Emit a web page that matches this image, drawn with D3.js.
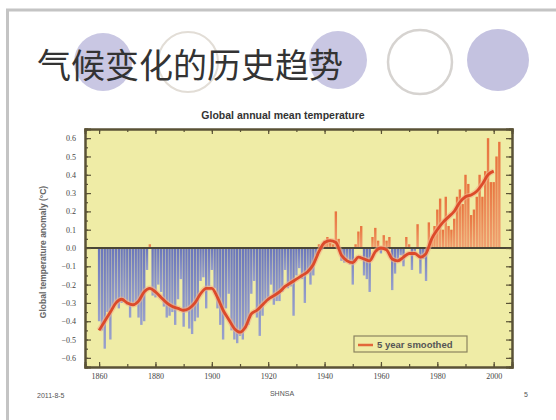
<!DOCTYPE html>
<html>
<head>
<meta charset="utf-8">
<script src="https://cdn.jsdelivr.net/npm/d3@7"></script>
<style>
  html, body { margin: 0; padding: 0; background: #fff; }
  svg { display: block; }
</style>
</head>
<body>
<svg id="slide" width="556" height="420"></svg>
<script>
// Annual global mean temperature anomalies (°C), 1860–2002
const firstYear = 1860;
const anomalies = [
  -0.40, -0.45, -0.55, -0.35, -0.50, -0.32, -0.30, -0.33, -0.30, -0.28,
  -0.31, -0.38, -0.30, -0.31, -0.38, -0.42, -0.40, -0.12, 0.02, -0.26,
  -0.27, -0.20, -0.24, -0.32, -0.38, -0.37, -0.35, -0.42, -0.28, -0.17,
  -0.43, -0.35, -0.44, -0.47, -0.40, -0.38, -0.18, -0.16, -0.33, -0.21,
  -0.12, -0.22, -0.33, -0.42, -0.50, -0.33, -0.25, -0.45, -0.50, -0.52,
  -0.48, -0.50, -0.44, -0.42, -0.25, -0.18, -0.38, -0.48, -0.37, -0.30,
  -0.29, -0.20, -0.31, -0.29, -0.29, -0.24, -0.12, -0.22, -0.21, -0.37,
  -0.15, -0.11, -0.17, -0.30, -0.14, -0.20, -0.15, -0.04, 0.02, -0.01,
  0.04, 0.06, 0.03, 0.02, 0.20, 0.05, -0.07, -0.08, -0.06, -0.09,
  -0.20, 0.02, 0.09, 0.12, -0.15, -0.17, -0.24, 0.06, 0.11, 0.04,
  -0.03, 0.07, 0.04, 0.06, -0.23, -0.14, -0.07, -0.04, -0.10, 0.06,
  0.02, -0.12, -0.02, 0.13, -0.14, -0.06, -0.18, 0.14, 0.05, 0.12,
  0.21, 0.27, 0.10, 0.28, 0.12, 0.10, 0.16, 0.28, 0.32, 0.24,
  0.40, 0.35, 0.18, 0.21, 0.28, 0.40, 0.28, 0.42, 0.60, 0.36,
  0.36, 0.50, 0.58
];
const years = anomalies.map((_, i) => firstYear + i);

// Smoothed curve (every two years)
const smoothYears = [
  1860, 1862, 1864, 1866, 1868, 1870, 1872, 1874, 1876, 1878,
  1880, 1882, 1884, 1886, 1888, 1890, 1892, 1894, 1896, 1898,
  1900, 1902, 1904, 1906, 1908, 1910, 1912, 1914, 1916, 1918,
  1920, 1922, 1924, 1926, 1928, 1930, 1932, 1934, 1936, 1938,
  1940, 1942, 1944, 1946, 1948, 1950, 1952, 1954, 1956, 1958,
  1960, 1962, 1964, 1966, 1968, 1970, 1972, 1974, 1976, 1978,
  1980, 1982, 1984, 1986, 1988, 1990, 1992, 1994, 1996, 1998, 2000
];
const smoothValues = [
  -0.45, -0.40, -0.35, -0.30, -0.28, -0.30, -0.31, -0.29, -0.24, -0.22,
  -0.24, -0.27, -0.30, -0.32, -0.33, -0.34, -0.33, -0.30, -0.25, -0.22,
  -0.22, -0.27, -0.34, -0.39, -0.44, -0.46, -0.43, -0.36, -0.34, -0.31,
  -0.28, -0.26, -0.24, -0.21, -0.19, -0.17, -0.15, -0.13, -0.09, -0.02,
  0.03, 0.04, 0.03, -0.04, -0.07, -0.08, -0.05, -0.06, -0.07, -0.02,
  0.00, -0.01, -0.06, -0.07, -0.05, -0.03, -0.03, -0.05, -0.03, 0.05,
  0.10, 0.14, 0.17, 0.20, 0.25, 0.28, 0.29, 0.31, 0.35, 0.40, 0.42
];

const yTicks = [0.6, 0.5, 0.4, 0.3, 0.2, 0.1, 0.0, -0.1, -0.2, -0.3, -0.4, -0.5, -0.6];
const xTicks = [1860, 1880, 1900, 1920, 1940, 1960, 1980, 2000];

const slideTitle = "气候变化的历史趋势";
const chartTitle = "Global annual mean temperature";
const yLabel = "Global temperature anomaly (°C)";
const legendLabel = "5 year smoothed";
const footerLeft = "2011-8-5";
const footerMid = "SHNSA";
const pageNo = "5";

const svg = d3.select("#slide");

// slide frame (top and left edges)
svg.append("line").attr("x1", 6).attr("x2", 556).attr("y1", 10).attr("y2", 10)
  .attr("stroke", "#c4c4c4").attr("stroke-width", 3);
svg.append("line").attr("x1", 7.5).attr("x2", 7.5).attr("y1", 9).attr("y2", 420)
  .attr("stroke", "#c4c4c4").attr("stroke-width", 3);

// decorative circles behind the heading
const deco = svg.append("g");
deco.append("circle").attr("cx", 103).attr("cy", 62).attr("r", 29).attr("fill", "#c9c7e3");
deco.append("circle").attr("cx", 188).attr("cy", 62).attr("r", 30).attr("fill", "#fff")
  .attr("stroke", "#e2ddd6").attr("stroke-width", 2);
deco.append("circle").attr("cx", 338).attr("cy", 60).attr("r", 29).attr("fill", "#c9c7e3");
deco.append("circle").attr("cx", 420).attr("cy", 62).attr("r", 32).attr("fill", "#fff")
  .attr("stroke", "#d6d3d0").attr("stroke-width", 2.5);
deco.append("circle").attr("cx", 498).attr("cy", 60).attr("r", 31).attr("fill", "#c4c2e0");

svg.append("text").attr("x", 37).attr("y", 78)
  .attr("font-family", "'Noto Sans CJK SC', sans-serif")
  .attr("font-size", 34).attr("fill", "#333")
  .text(slideTitle);

// chart
const x = d3.scaleLinear().domain([1855, 2006.5]).range([85, 512]);
const y = d3.scaleLinear().domain([-0.65, 0.65]).range([367, 129]);

const plot = svg.append("g");
plot.append("rect").attr("x", 85).attr("y", 129).attr("width", 427).attr("height", 238)
  .attr("fill", "#efeca6");

const defs = svg.append("defs");
const gBlue = defs.append("linearGradient").attr("id", "gBlue")
  .attr("x1", 0).attr("y1", 0).attr("x2", 0).attr("y2", 1);
gBlue.append("stop").attr("offset", "0%").attr("stop-color", "#6a76bb");
gBlue.append("stop").attr("offset", "100%").attr("stop-color", "#98a0cc");
const gRed = defs.append("linearGradient").attr("id", "gRed")
  .attr("x1", 0).attr("y1", 1).attr("x2", 0).attr("y2", 0);
gRed.append("stop").attr("offset", "0%").attr("stop-color", "#f0a070");
gRed.append("stop").attr("offset", "100%").attr("stop-color", "#e8743f");

const bw = (x(1) - x(0)) * 0.85;
plot.selectAll("rect.bar").data(years).join("rect")
  .attr("class", "bar")
  .attr("x", d => x(d) - bw / 2)
  .attr("width", bw)
  .attr("y", (d, i) => Math.min(y(anomalies[i]), y(0)))
  .attr("height", (d, i) => Math.abs(y(anomalies[i]) - y(0)))
  .attr("fill", (d, i) => anomalies[i] < 0 ? "url(#gBlue)" : "url(#gRed)");

// zero line
plot.append("line").attr("x1", 85).attr("x2", 512).attr("y1", y(0)).attr("y2", y(0))
  .attr("stroke", "#4a4636").attr("stroke-width", 2.2);

// smoothed curve
const line = d3.line().x((d, i) => x(smoothYears[i])).y(d => y(d)).curve(d3.curveMonotoneX);
plot.append("path").datum(smoothValues).attr("d", line)
  .attr("fill", "none").attr("stroke", "#f3b08a").attr("stroke-width", 5.5).attr("opacity", 0.6);
plot.append("path").datum(smoothValues).attr("d", line)
  .attr("fill", "none").attr("stroke", "#dc4a2a").attr("stroke-width", 2.8);

// axes
const axisColor = "#5a5236";
const fontAxis = "'Liberation Serif', serif";
svg.append("g").attr("transform", "translate(0,367)")
  .call(d3.axisBottom(x).tickValues(xTicks).tickFormat(d3.format("d")).tickSize(-5).tickPadding(6));
svg.append("g").attr("transform", "translate(0,129)")
  .call(d3.axisTop(x).tickValues(xTicks).tickFormat("").tickSize(-5));
svg.append("g").attr("transform", "translate(85,0)")
  .call(d3.axisLeft(y).tickValues(yTicks).tickFormat(d3.format(".1f")).tickSize(-6).tickPadding(9));
svg.append("g").attr("transform", "translate(512,0)")
  .call(d3.axisRight(y).tickValues(yTicks).tickFormat("").tickSize(-6));
// minor ticks
const minor = d3.range(-0.65, 0.651, 0.05).map(v => Math.round(v * 100) / 100);
svg.append("g").attr("transform", "translate(85,0)")
  .call(d3.axisLeft(y).tickValues(minor).tickFormat("").tickSize(-3));
svg.append("g").attr("transform", "translate(512,0)")
  .call(d3.axisRight(y).tickValues(minor).tickFormat("").tickSize(-3));
const minorX = d3.range(1860, 2006, 10);
svg.append("g").attr("transform", "translate(0,367)")
  .call(d3.axisBottom(x).tickValues(minorX).tickFormat("").tickSize(-3));
svg.append("g").attr("transform", "translate(0,129)")
  .call(d3.axisTop(x).tickValues(minorX).tickFormat("").tickSize(-3));

svg.selectAll(".domain").attr("stroke", axisColor).attr("stroke-width", 2);
svg.selectAll(".tick line").attr("stroke", axisColor).attr("stroke-width", 1.2);
svg.selectAll(".tick text").attr("font-family", fontAxis).attr("font-size", 8)
  .attr("fill", "#444");

// chart title and y label
svg.append("text").attr("x", 283).attr("y", 119).attr("text-anchor", "middle")
  .attr("font-family", "'Liberation Sans', sans-serif").attr("font-weight", "bold")
  .attr("font-size", 10.5).attr("fill", "#333").text(chartTitle);
svg.append("text").attr("transform", "translate(46,252) rotate(-90)")
  .attr("text-anchor", "middle").attr("font-family", "'Liberation Sans', sans-serif")
  .attr("font-weight", "bold")
  .attr("font-size", 8.5).attr("fill", "#666").text(yLabel);

// legend
const lg = svg.append("g");
lg.append("rect").attr("x", 354).attr("y", 336).attr("width", 113).attr("height", 16)
  .attr("fill", "#efeca6").attr("stroke", "#8a8460").attr("stroke-width", 1.2);
lg.append("line").attr("x1", 358).attr("x2", 373).attr("y1", 345).attr("y2", 345)
  .attr("stroke", "#e2673a").attr("stroke-width", 2.5);
lg.append("text").attr("x", 377).attr("y", 348)
  .attr("font-family", "'Liberation Sans', sans-serif").attr("font-weight", "bold")
  .attr("font-size", 9.5).attr("fill", "#555").text(legendLabel);

// footer
const foot = svg.append("g").attr("font-family", "'Liberation Sans', sans-serif")
  .attr("font-size", 7).attr("fill", "#555");
foot.append("text").attr("x", 37).attr("y", 398).text(footerLeft);
foot.append("text").attr("x", 282).attr("y", 396).attr("text-anchor", "middle").text(footerMid);
foot.append("text").attr("x", 526).attr("y", 397).attr("text-anchor", "middle").text(pageNo);
</script>
</body>
</html>
